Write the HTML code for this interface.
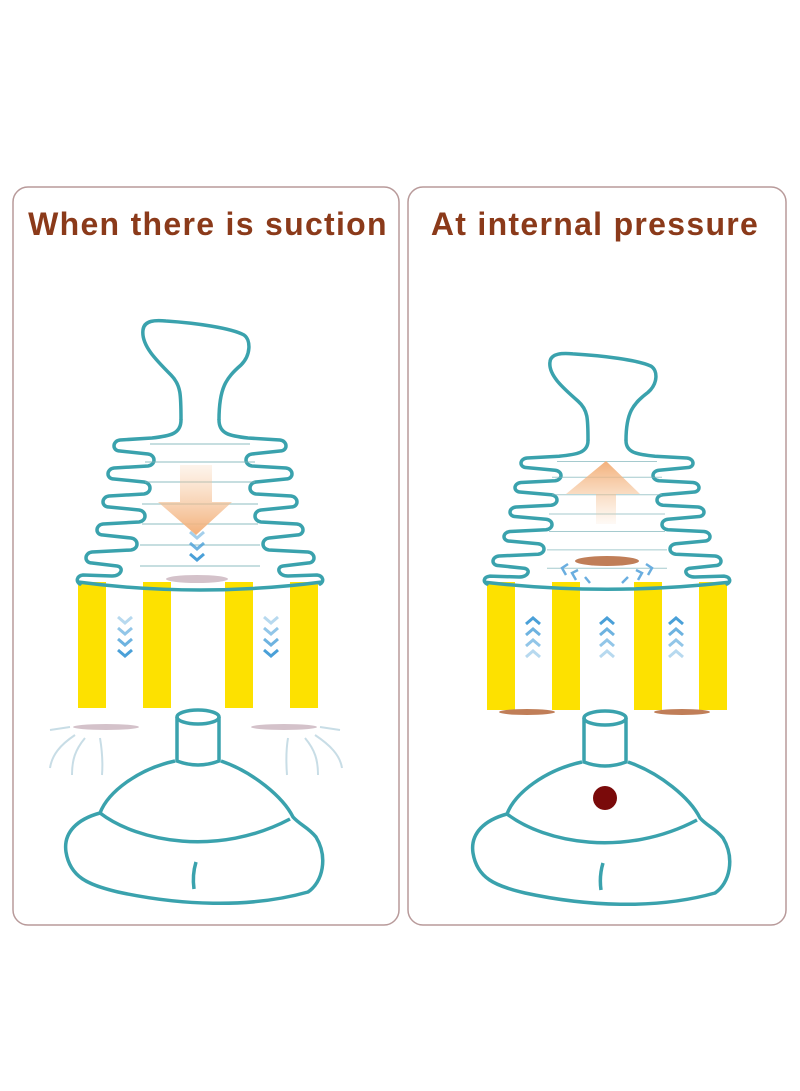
<!DOCTYPE html>
<html><head><meta charset="utf-8"><style>
html,body{margin:0;padding:0;background:#fff;}
svg{display:block;}
text{font-family:"Liberation Sans",sans-serif;font-weight:bold;fill:#8b3a1a;}
</style></head><body>
<svg width="800" height="1091" viewBox="0 0 800 1091" xmlns="http://www.w3.org/2000/svg">
<defs>
<linearGradient id="gd" x1="0" y1="0" x2="0" y2="1"><stop offset="0" stop-color="#f6c9a0" stop-opacity="0.2"/><stop offset="1" stop-color="#f3b07a"/></linearGradient>
<linearGradient id="gu" x1="0" y1="1" x2="0" y2="0"><stop offset="0" stop-color="#f6c9a0" stop-opacity="0.1"/><stop offset="1" stop-color="#f3b07a"/></linearGradient>
<g id="half">
<path d="M19,100 C19,114 30,116 48,118 L80,120 C88,121 88,131 80,131 L52,134 C44,135 44,145 52,146 L86,148 C94,149 94,159 86,159 L56,162 C48,163 48,173 56,174 L91,176 C99,177 99,187 91,187 L61,190 C53,191 53,201 61,202 L97,204 C105,205 105,215 97,215 L69,218 C61,219 61,229 69,230 L108,232 C116,233 116,243 108,243 L83,246 C76,247 78,256 88,256 L117,255 C124,256 124,262 120,264" fill="none" stroke="#3aa2ad" stroke-width="3.5" vector-effect="non-scaling-stroke" stroke-linecap="round" stroke-linejoin="round"/>
</g>
<g id="plunger">
<use href="#half"/>
<use href="#half" transform="scale(-1,1)"/>
<path d="M-19,100 C-19,75 -19,65 -29,55 C-44,40 -59,25 -57,10 C-56,0 -44,0 -34,1 C-4,3 31,8 44,15 C51,20 51,35 41,45 C26,58 19,68 19,100" fill="none" stroke="#3aa2ad" stroke-width="3.5" vector-effect="non-scaling-stroke"/>
<path d="M-122,262 Q0,278 122,262" fill="none" stroke="#3aa2ad" stroke-width="3.5" vector-effect="non-scaling-stroke"/>
<g stroke="#7fb4ba" stroke-width="1.2" opacity="0.7" vector-effect="non-scaling-stroke">
<line x1="-50" y1="124" x2="50" y2="124"/><line x1="-55" y1="142" x2="55" y2="142"/><line x1="-55" y1="162" x2="55" y2="162"/><line x1="-58" y1="184" x2="58" y2="184"/><line x1="-58" y1="204" x2="58" y2="204"/><line x1="-60" y1="225" x2="60" y2="225"/><line x1="-60" y1="246" x2="60" y2="246"/>
</g>
</g>
<g id="base" fill="none" stroke="#3aa2ad" stroke-width="3.5">
<ellipse cx="0" cy="0" rx="21" ry="7"/>
<path d="M-21,0 L-21,44 Q0,52 21,44 L21,0"/>
<path d="M-23,44 C-60,52 -90,75 -98,96 C-120,102 -135,115 -132,135 C-128,160 -110,168 -80,175 C-20,188 50,192 110,175 C125,165 130,140 118,120 C110,110 102,108 95,100 C85,80 55,55 23,44"/>
<path d="M-98,96 C-60,125 20,140 92,102"/>
<path d="M-2,145 C-5,155 -5,165 -4,172"/>
</g>
<path id="chevd" d="M-7,0 L0,6 L7,0" fill="none" stroke-width="3"/>
<path id="chevu" d="M-7,6 L0,0 L7,6" fill="none" stroke-width="3"/>
</defs>

<rect x="13" y="187" width="386" height="738" rx="15" fill="#fff" stroke="#b89a9a" stroke-width="1.5"/>
<rect x="408" y="187" width="378" height="738" rx="15" fill="#fff" stroke="#b89a9a" stroke-width="1.5"/>
<text x="208" y="235" font-size="32" text-anchor="middle" letter-spacing="1.3">When there is suction</text>
<text x="595" y="235" font-size="32" text-anchor="middle" letter-spacing="1.3">At internal pressure</text>

<!-- LEFT -->
<g fill="#fde100">
<rect x="78" y="582" width="28" height="126"/><rect x="143" y="582" width="28" height="126"/><rect x="225" y="582" width="28" height="126"/><rect x="290" y="582" width="28" height="126"/>
</g>
<use href="#plunger" transform="translate(200,320)"/>
<path d="M180,465 L212,465 L212,502 L232,502 L196,535 L158,502 L180,502 Z" fill="url(#gd)"/>
<ellipse cx="197" cy="579" rx="31" ry="4" fill="#d4c2ca"/>
<g stroke="#4aa0d8"><use href="#chevd" x="197" y="532" opacity="0.5"/><use href="#chevd" x="197" y="543" opacity="0.8"/><use href="#chevd" x="197" y="554"/></g>
<g stroke="#4aa0d8"><use href="#chevd" x="125" y="617" opacity="0.4"/><use href="#chevd" x="125" y="628" opacity="0.6"/><use href="#chevd" x="125" y="639" opacity="0.8"/><use href="#chevd" x="125" y="650"/></g>
<g stroke="#4aa0d8"><use href="#chevd" x="271" y="617" opacity="0.4"/><use href="#chevd" x="271" y="628" opacity="0.6"/><use href="#chevd" x="271" y="639" opacity="0.8"/><use href="#chevd" x="271" y="650"/></g>
<ellipse cx="106" cy="727" rx="33" ry="3" fill="#d4c2ca"/>
<ellipse cx="284" cy="727" rx="33" ry="3" fill="#d4c2ca"/>
<g fill="none" stroke="#c8dde6" stroke-width="2">
<path d="M70,727 L50,730"/><path d="M75,735 C60,745 52,755 50,768"/><path d="M85,738 C75,750 72,760 72,775"/><path d="M100,738 C102,750 103,762 102,775"/>
<path d="M320,727 L340,730"/><path d="M315,735 C330,745 340,755 342,768"/><path d="M305,738 C315,750 318,760 318,775"/><path d="M288,738 C286,750 286,762 287,775"/>
</g>
<use href="#base" transform="translate(198,717)"/>

<!-- RIGHT -->
<g fill="#fde100">
<rect x="487" y="582" width="28" height="128"/><rect x="552" y="582" width="28" height="128"/><rect x="634" y="582" width="28" height="128"/><rect x="699" y="582" width="28" height="128"/>
</g>
<use href="#plunger" transform="translate(607,353) scale(1,0.875)"/>
<path d="M596,524 L616,524 L616,494 L640,494 L606,461 L566,494 L596,494 Z" fill="url(#gu)"/>
<ellipse cx="607" cy="561" rx="32" ry="5" fill="#c07e58"/>
<g fill="none" stroke="#6aaee0" stroke-width="2.5">
<path d="M568,564 L562,568 L566,575"/><path d="M578,570 L572,573 L576,580"/><path d="M646,564 L652,568 L648,575"/><path d="M636,570 L642,573 L638,580"/>
<path d="M585,577 L590,583"/><path d="M628,577 L622,583"/>
</g>
<ellipse cx="527" cy="712" rx="28" ry="3" fill="#c07e58"/>
<ellipse cx="682" cy="712" rx="28" ry="3" fill="#c07e58"/>
<g stroke="#4aa0d8"><use href="#chevu" x="533" y="618"/><use href="#chevu" x="533" y="629" opacity="0.8"/><use href="#chevu" x="533" y="640" opacity="0.6"/><use href="#chevu" x="533" y="651" opacity="0.4"/></g>
<g stroke="#4aa0d8"><use href="#chevu" x="607" y="618"/><use href="#chevu" x="607" y="629" opacity="0.8"/><use href="#chevu" x="607" y="640" opacity="0.6"/><use href="#chevu" x="607" y="651" opacity="0.4"/></g>
<g stroke="#4aa0d8"><use href="#chevu" x="676" y="618"/><use href="#chevu" x="676" y="629" opacity="0.8"/><use href="#chevu" x="676" y="640" opacity="0.6"/><use href="#chevu" x="676" y="651" opacity="0.4"/></g>
<use href="#base" transform="translate(605,718)"/>
<circle cx="605" cy="798" r="12" fill="#7a0a0a"/>
</svg>
</body></html>
